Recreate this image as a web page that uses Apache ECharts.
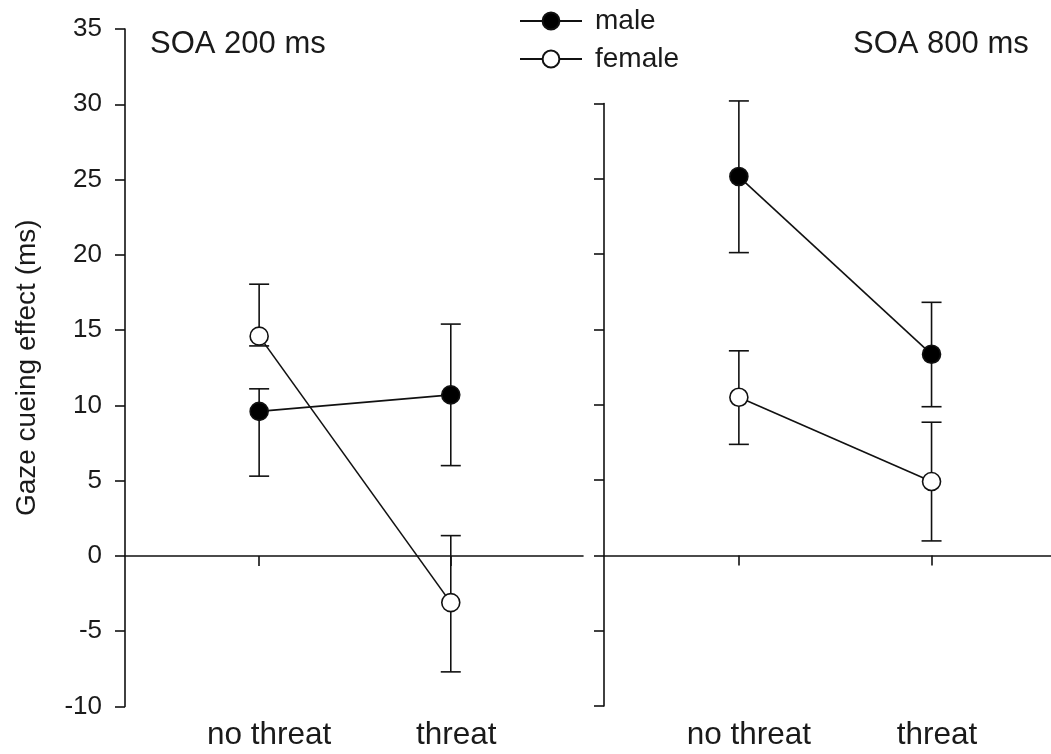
<!DOCTYPE html>
<html>
<head>
<meta charset="utf-8">
<script src="https://cdn.jsdelivr.net/npm/echarts@6/dist/echarts.min.js"></script>
<style>
html,body{margin:0;padding:0;background:#fff;}
#chart{width:1051px;height:754px;}
</style>
</head>
<body>
<div id="chart"></div>
<script>
// ---- data ----
var categories = ['no threat', 'threat'];
var panelTitles = ['SOA 200 ms', 'SOA 800 ms'];

var soa200Male = [9.6, 10.7];
var soa200MaleLow = [5.3, 6.0];
var soa200MaleHigh = [11.1, 15.4];
var soa200Female = [14.6, -3.1];
var soa200FemaleLow = [13.95, -7.7];
var soa200FemaleHigh = [18.05, 1.35];

var soa800Male = [25.15, 13.35];
var soa800MaleLow = [20.1, 9.87];
var soa800MaleHigh = [30.17, 16.8];
var soa800Female = [10.5, 4.9];
var soa800FemaleLow = [7.37, 0.96];
var soa800FemaleHigh = [13.58, 8.84];

// ---- build ----
var FONT = '"Liberation Sans", Arial, sans-serif';
var TXT = '#1a1a1a';
function pts(vals) { return vals.map(function (v, i) { return [i + 1, v]; }); }
function errs(low, high) { return low.map(function (l, i) { return [i + 1, l, high[i]]; }); }

function errSeries(name, xi, yi, low, high) {
  return {
    name: name, type: 'custom', xAxisIndex: xi, yAxisIndex: yi, z: 2, clip: false,
    data: errs(low, high), silent: true,
    renderItem: function (params, api) {
      var lo = api.coord([api.value(0), api.value(1)]);
      var hi = api.coord([api.value(0), api.value(2)]);
      var w = 10;
      var st = { stroke: '#111', lineWidth: 1.6 };
      return {
        type: 'group', children: [
          { type: 'line', shape: { x1: lo[0], y1: lo[1], x2: hi[0], y2: hi[1] }, style: st },
          { type: 'line', shape: { x1: lo[0] - w, y1: lo[1], x2: lo[0] + w, y2: lo[1] }, style: st },
          { type: 'line', shape: { x1: hi[0] - w, y1: hi[1], x2: hi[0] + w, y2: hi[1] }, style: st }
        ]
      };
    }
  };
}
function lineSeries(name, xi, yi, vals, fill) {
  return {
    name: name, type: 'line', xAxisIndex: xi, yAxisIndex: yi, z: 5,
    data: pts(vals), symbol: 'circle', symbolSize: 18, clip: false,
    lineStyle: { color: '#111', width: 1.6 },
    itemStyle: { color: fill, borderColor: '#111', borderWidth: 1.6 },
    emphasis: { disabled: true }, animation: false
  };
}

var grids = [
  { left: 125, top: 29, width: 458, height: 677.5 },
  { left: 604, top: 103.5, width: 447, height: 602.5 }
];
var xRange = [[0.3, 2.69], [0.3, 2.62]];

var xAxes = [];
var yAxes = [];
[0, 1].forEach(function (g) {
  xAxes.push({
    type: 'value', gridIndex: g, min: xRange[g][0], max: xRange[g][1], position: 'bottom',
    axisLine: { show: true, onZero: true, lineStyle: { color: '#111', width: 1.6 } },
    axisTick: { show: true, customValues: [1, 2], length: 10, lineStyle: { color: '#111', width: 1.6 } },
    axisLabel: { show: false }, splitLine: { show: false }
  });
  xAxes.push({
    type: 'value', gridIndex: g, min: xRange[g][0], max: xRange[g][1], position: 'bottom',
    axisLine: { show: false, onZero: false }, axisTick: { show: false }, splitLine: { show: false },
    axisLabel: {
      show: true, customValues: [1, 2], margin: 13, fontSize: 31.5, fontFamily: FONT, color: TXT,
      formatter: function (v) {
        var i = Math.round(v) - 1;
        return '{c' + i + '|' + categories[i] + '}';
      },
      rich: {
        c0: { fontSize: 31.5, fontFamily: FONT, color: TXT, padding: [0, 0, 0, 20] },
        c1: { fontSize: 31.5, fontFamily: FONT, color: TXT, padding: [0, 0, 0, 11] }
      }
    }
  });
  yAxes.push({
    type: 'value', gridIndex: g, min: -10, max: g === 0 ? 35 : 30, interval: 5,
    axisLine: { show: true, onZero: false, lineStyle: { color: '#111', width: 1.6 } },
    axisTick: { show: true, length: 10, lineStyle: { color: '#111', width: 1.6 } },
    splitLine: { show: false },
    axisLabel: { show: g === 0, margin: 23, fontSize: 26, fontFamily: FONT, color: TXT },
    name: g === 0 ? 'Gaze cueing effect (ms)' : '',
    nameLocation: 'middle', nameGap: 84,
    nameTextStyle: { fontSize: 28, fontFamily: FONT, color: TXT }
  });
});

var option = {
  backgroundColor: '#fff',
  animation: false,
  title: [
    { text: panelTitles[0], left: 150, top: 29, padding: 0, textStyle: { fontSize: 31, fontWeight: 'normal', fontFamily: FONT, color: TXT } },
    { text: panelTitles[1], left: 853, top: 29, padding: 0, textStyle: { fontSize: 31, fontWeight: 'normal', fontFamily: FONT, color: TXT } }
  ],
  legend: {
    data: ['male', 'female'], orient: 'vertical', left: 519, top: 7,
    itemWidth: 62, itemHeight: 21, itemGap: 10, padding: 0,
    textStyle: { fontSize: 28, fontFamily: FONT, color: TXT, padding: [0, 0, 0, 8] },
    selectedMode: false
  },
  grid: grids,
  xAxis: xAxes,
  yAxis: yAxes,
  series: [
    errSeries('e1', 0, 0, soa200MaleLow, soa200MaleHigh),
    errSeries('e2', 0, 0, soa200FemaleLow, soa200FemaleHigh),
    errSeries('e3', 2, 1, soa800MaleLow, soa800MaleHigh),
    errSeries('e4', 2, 1, soa800FemaleLow, soa800FemaleHigh),
    lineSeries('male', 0, 0, soa200Male, '#000'),
    lineSeries('female', 0, 0, soa200Female, '#fff'),
    lineSeries('male', 2, 1, soa800Male, '#000'),
    lineSeries('female', 2, 1, soa800Female, '#fff')
  ]
};
var chart = echarts.init(document.getElementById('chart'), null, { renderer: 'canvas' });
chart.setOption(option);
</script>
</body>
</html>
